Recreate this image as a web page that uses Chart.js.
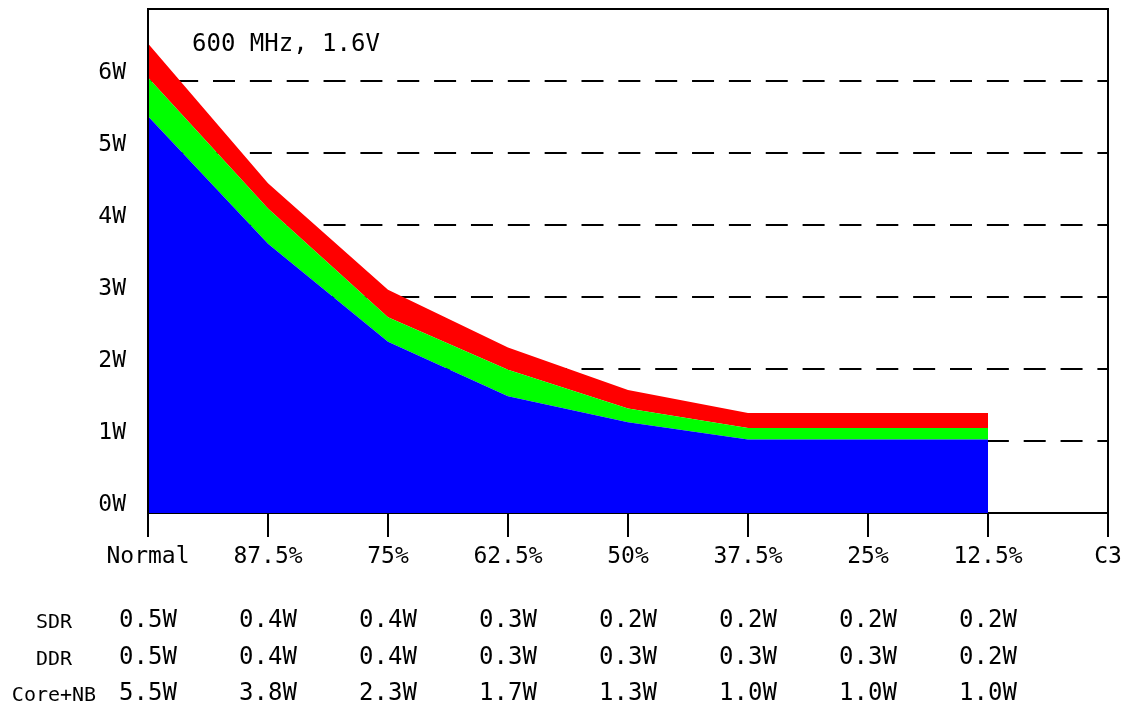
<!DOCTYPE html>
<html>
<head>
<meta charset="utf-8">
<script src="https://cdn.jsdelivr.net/npm/chart.js@4/dist/chart.umd.min.js"></script>
<style>
  html, body { margin: 0; padding: 0; background: #fff; }
  canvas { display: block; }
</style>
</head>
<body>
<canvas id="power" width="1131" height="706"></canvas>
<script>
/* ── Data ──────────────────────────────────────────────────── */
const CATEGORIES = ['Normal', '87.5%', '75%', '62.5%', '50%', '37.5%', '25%', '12.5%', 'C3'];

// stacked layers (W)
const CORE_NB = [5.51, 3.74, 2.38, 1.62, 1.26, 1.02, 1.02, 1.02];
const DDR     = [0.54, 0.49, 0.34, 0.37, 0.19, 0.16, 0.16, 0.16];
const SDR     = [0.47, 0.35, 0.38, 0.31, 0.26, 0.21, 0.21, 0.21];

// table printed under the chart
const ROW_LABELS     = ['SDR', 'DDR', 'Core+NB'];
const SDR_TEXT       = ['0.5W', '0.4W', '0.4W', '0.3W', '0.2W', '0.2W', '0.2W', '0.2W'];
const DDR_TEXT       = ['0.5W', '0.4W', '0.4W', '0.3W', '0.3W', '0.3W', '0.3W', '0.2W'];
const CORE_NB_TEXT   = ['5.5W', '3.8W', '2.3W', '1.7W', '1.3W', '1.0W', '1.0W', '1.0W'];

const Y_MAX = 7;
const NOTE  = '600 MHz, 1.6V';

/* ── Theme ─────────────────────────────────────────────────── */
const MONO = 'DejaVu Sans Mono';
const FONT = { family: MONO, size: 23 };

/* frame (top + right), note, and value table */
const framePlugin = {
  id: 'frameAndTable',
  afterDraw(chart) {
    const { ctx, chartArea: a, scales: { x } } = chart;
    ctx.save();
    ctx.strokeStyle = '#000';
    ctx.lineWidth = 2;
    ctx.beginPath();
    ctx.moveTo(a.left - 1, a.top);
    ctx.lineTo(a.right, a.top);
    ctx.lineTo(a.right, a.bottom);
    ctx.stroke();

    ctx.fillStyle = '#000';
    ctx.textBaseline = 'middle';
    ctx.textAlign = 'left';
    ctx.font = `24px "${MONO}"`;
    ctx.fillText(NOTE, a.left + 44, 45);

    const rows = [SDR_TEXT, DDR_TEXT, CORE_NB_TEXT];
    const rowY = [621, 658, 694];
    rows.forEach((row, r) => {
      ctx.textAlign = 'center';
      ctx.font = `20px "${MONO}"`;
      ctx.fillText(ROW_LABELS[r], 54, rowY[r] + 2);
      ctx.font = `24px "${MONO}"`;
      row.forEach((txt, i) => ctx.fillText(txt, x.getPixelForValue(i), rowY[r]));
    });
    ctx.restore();
  },
};

const layer = (label, data, color, fill) => ({
  label, data, fill,
  backgroundColor: color,
  borderColor: 'rgba(0,0,0,0)',
  borderWidth: 0,
  pointRadius: 0,
  tension: 0,
});

new Chart(document.getElementById('power'), {
  type: 'line',
  data: {
    labels: CATEGORIES,
    datasets: [
      layer('Core+NB', CORE_NB, '#0000ff', 'origin'),
      layer('DDR',     DDR,     '#00ff00', '-1'),
      layer('SDR',     SDR,     '#ff0000', '-1'),
    ],
  },
  options: {
    responsive: false,
    devicePixelRatio: 1,
    animation: false,
    layout: { padding: { top: 9, right: 23, left: 0, bottom: 0 } },
    plugins: {
      legend: { display: false },
      tooltip: { enabled: false },
    },
    scales: {
      x: {
        offset: false,
        grid: {
          drawOnChartArea: false,
          drawTicks: true,
          tickLength: 24,
          tickWidth: 2,
          tickColor: '#000',
          lineWidth: 2,
          color: '#000',
        },
        border: { color: '#000', width: 2 },
        ticks: { color: '#000', font: FONT, padding: 6, maxRotation: 0, autoSkip: false },
        afterFit(s) { s.height = 193; s.paddingLeft = 0; s.paddingRight = 0; },
      },
      y: {
        stacked: true,
        min: 0,
        max: Y_MAX,
        grid: {
          drawTicks: false,
          lineWidth: 2,
          color: c => (c.tick && (c.tick.value === 0 || c.tick.value === Y_MAX)) ? 'rgba(0,0,0,0)' : '#000',
        },
        border: { color: '#000', width: 2, dash: [22, 14.85], dashOffset: 9.7, z: 1 },
        ticks: {
          stepSize: 1,
          color: '#000',
          font: FONT,
          padding: 22,
          labelOffset: -8,
          callback: v => v === Y_MAX ? null : v + 'W',
        },
        afterFit(s) { s.width = 148; s.paddingTop = 0; s.paddingBottom = 0; },
      },
    },
  },
  plugins: [framePlugin],
});
</script>
</body>
</html>
